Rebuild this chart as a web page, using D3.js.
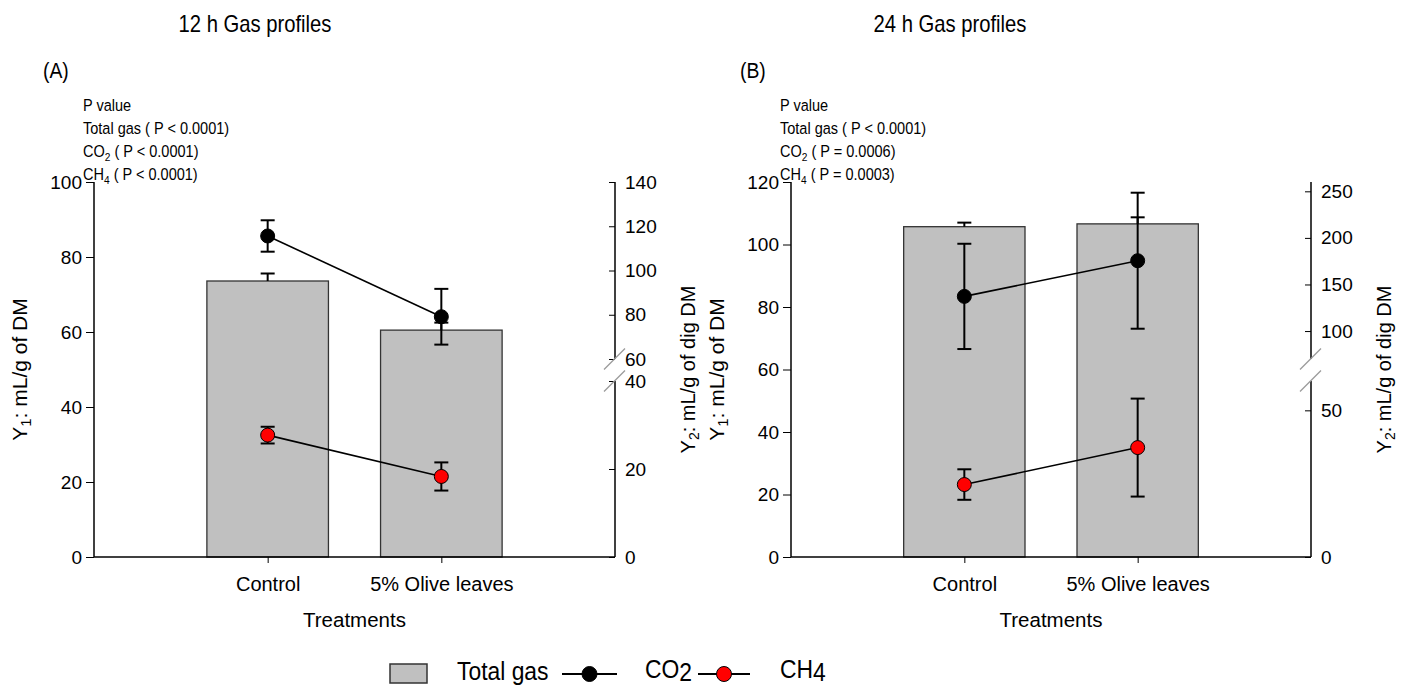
<!doctype html>
<html>
<head>
<meta charset="utf-8">
<script src="https://d3js.org/d3.v7.min.js"></script>
<style>
  body { margin: 0; background: #fff; }
  svg text { font-family: "Liberation Sans", Arial, sans-serif; fill: #000; }
</style>
</head>
<body>
<svg width="1409" height="688"></svg>
<script>
var treatments = ["Control", "5% Olive leaves"];

// 12 h gas profiles
var total12 = [73.6, 60.5], total12Err = [2.0, 2.0];
var co2_12 = [115.6, 79.1], co2_12Err = [7.1, 12.6];
var ch4_12 = [27.7, 18.3], ch4_12Err = [1.9, 3.2];

// 24 h gas profiles
var total24 = [105.7, 106.6], total24Err = [1.3, 2.1];
var co2_24 = [137.2, 175.5], co2_24Err = [56.5, 73.0];
var ch4_24 = [24.7, 37.3], ch4_24Err = [5.2, 16.7];

var y1Ticks12 = [0, 20, 40, 60, 80, 100], y1Ticks24 = [0, 20, 40, 60, 80, 100, 120];
var y2Ticks12 = [0, 20, 40, 60, 80, 100, 120, 140], y2Ticks24 = [0, 50, 100, 150, 200, 250];
// broken right axis: top of lower part, bottom of upper part, top
var y2Break12 = [40, 60, 140], y2Break24 = [60, 70, 260];
var pTotal12 = "P < 0.0001", pCO2_12 = "P < 0.0001", pCH4_12 = "P < 0.0001";
var pTotal24 = "P < 0.0001", pCO2_24 = "P = 0.0006", pCH4_24 = "P = 0.0003";

var svg = d3.select("svg");
var top_ = 182, bot = 557, lowTop = 381, highBot = 359;
var sx = 0.88;

function ctext(g, x, y, size, str, anchor) {
    return g.append("text")
        .attr("transform", "translate(" + x + "," + y + ") scale(" + sx + ",1)")
        .attr("font-size", size + "px")
        .attr("text-anchor", anchor || "start")
        .text(str);
}

function subText(g, x, y, size, a, sub, b) {
    var t = g.append("text")
        .attr("transform", "translate(" + x + "," + y + ") scale(" + sx + ",1)")
        .attr("font-size", size + "px");
    t.append("tspan").text(a);
    t.append("tspan").attr("font-size", (size * 0.7) + "px").attr("dy", 4).text(sub);
    t.append("tspan").attr("dy", -4).text(b);
    return t;
}

function panel(p) {
    var g = svg.append("g");
    var x = d3.scalePoint().domain(treatments).range([p.x0, p.x1]).padding(1);
    var bw = x.step() * 0.7;
    var y1 = d3.scaleLinear().domain([0, p.y1Max]).range([bot, top_]);
    var b = p.y2Break;
    var y2 = d3.scaleLinear().domain([0, b[0], b[1], b[2]]).range([bot, lowTop, highBot, top_]);

    // titles
    ctext(g, p.titleX, 32, 23, p.title, "middle");
    ctext(g, p.x0 - 51, 78, 22, p.letter);
    ctext(g, p.x0 - 11, 111, 16.5, "P value");
    ctext(g, p.x0 - 11, 134, 16.5, "Total gas ( " + p.pTotal + ")");
    subText(g, p.x0 - 11, 157, 16.5, "CO", "2", " ( " + p.pCO2 + ")");
    subText(g, p.x0 - 11, 180, 16.5, "CH", "4", " ( " + p.pCH4 + ")");

    // bars
    g.selectAll(".bar").data(treatments).enter().append("rect")
        .attr("x", function(d) { return x(d) - bw / 2; })
        .attr("y", function(d, i) { return y1(p.total[i]); })
        .attr("width", bw)
        .attr("height", function(d, i) { return bot - y1(p.total[i]); })
        .attr("fill", "#c0c0c0").attr("stroke", "#333").attr("stroke-width", 1.3);

    // total gas error (upper only)
    treatments.forEach(function(d, i) {
        var cx = x(d), yt = y1(p.total[i] + p.totalErr[i]);
        g.append("line").attr("x1", cx).attr("x2", cx).attr("y1", y1(p.total[i])).attr("y2", yt)
            .attr("stroke", "#000").attr("stroke-width", 2);
        g.append("line").attr("x1", cx - 7).attr("x2", cx + 7).attr("y1", yt).attr("y2", yt)
            .attr("stroke", "#000").attr("stroke-width", 2);
    });

    // lines + points
    [[p.co2, p.co2Err, "#000"], [p.ch4, p.ch4Err, "#ff0000"]].forEach(function(s) {
        var vals = s[0], errs = s[1];
        g.append("path")
            .attr("d", d3.line().x(function(d, i) { return x(treatments[i]); })
                .y(function(d) { return y2(d); })(vals))
            .attr("fill", "none").attr("stroke", "#000").attr("stroke-width", 1.6);
        vals.forEach(function(v, i) {
            var cx = x(treatments[i]);
            var ya = y2(v + errs[i]), yb = y2(v - errs[i]);
            g.append("line").attr("x1", cx).attr("x2", cx).attr("y1", ya).attr("y2", yb)
                .attr("stroke", "#000").attr("stroke-width", 2);
            [ya, yb].forEach(function(yy) {
                g.append("line").attr("x1", cx - 7).attr("x2", cx + 7).attr("y1", yy).attr("y2", yy)
                    .attr("stroke", "#000").attr("stroke-width", 2);
            });
        });
        g.selectAll(null).data(vals).enter().append("circle")
            .attr("cx", function(d, i) { return x(treatments[i]); })
            .attr("cy", function(d) { return y2(d); })
            .attr("r", 7)
            .attr("fill", s[2]).attr("stroke", "#000").attr("stroke-width", 1);
    });

    // x axis
    var xa = g.append("g").attr("transform", "translate(0," + bot + ")")
        .call(d3.axisBottom(x).tickSize(6).tickPadding(14));
    xa.select(".domain").remove();
    xa.selectAll("text").attr("font-size", "20px").attr("font-family", null);
    g.append("line").attr("x1", p.x0).attr("x2", p.x1).attr("y1", bot).attr("y2", bot)
        .attr("stroke", "#000").attr("stroke-width", 1.5);

    // left axis
    var ya1 = g.append("g").attr("transform", "translate(" + p.x0 + ",0)")
        .call(d3.axisLeft(y1).tickValues(p.y1Ticks).tickSize(8).tickPadding(4));
    ya1.select(".domain").remove();
    ya1.selectAll("text").attr("font-size", "19px").attr("font-family", null);
    g.append("line").attr("x1", p.x0).attr("x2", p.x0).attr("y1", top_).attr("y2", bot)
        .attr("stroke", "#000").attr("stroke-width", 1.5);

    // right broken axis
    var ya2 = g.append("g").attr("transform", "translate(" + p.x1 + ",0)")
        .call(d3.axisRight(y2).tickValues(p.y2Ticks).tickSize(-6).tickPadding(10));
    ya2.select(".domain").remove();
    ya2.selectAll("text").attr("font-size", "19px").attr("font-family", null);
    g.append("line").attr("x1", p.x1).attr("x2", p.x1).attr("y1", bot).attr("y2", lowTop)
        .attr("stroke", "#000").attr("stroke-width", 1.5);
    g.append("line").attr("x1", p.x1).attr("x2", p.x1).attr("y1", highBot).attr("y2", top_)
        .attr("stroke", "#000").attr("stroke-width", 1.5);
    [highBot, lowTop].forEach(function(yb) {
        g.append("line").attr("x1", p.x1 - 11).attr("x2", p.x1 + 10)
            .attr("y1", yb + 10.5).attr("y2", yb - 10.5)
            .attr("stroke", "#999").attr("stroke-width", 1.3);
    });

    // axis titles
    var mid = (top_ + bot) / 2;
    var t1 = g.append("text").attr("transform", "translate(" + (p.x0 - 74) + "," + mid + ") rotate(-90)")
        .attr("text-anchor", "middle").attr("font-size", "21px").attr("dy", "0.35em");
    t1.append("tspan").text("Y");
    t1.append("tspan").attr("font-size", "15px").attr("dy", 4).text("1");
    t1.append("tspan").attr("dy", -4).text(": mL/g of DM");
    var t2 = g.append("text").attr("transform", "translate(" + (p.x1 + 73) + "," + mid + ") rotate(-90)")
        .attr("text-anchor", "middle").attr("font-size", "20px").attr("dy", "0.35em");
    t2.append("tspan").text("Y");
    t2.append("tspan").attr("font-size", "14px").attr("dy", 4).text("2");
    t2.append("tspan").attr("dy", -4).text(": mL/g of dig DM");
    g.append("text").attr("x", (p.x0 + p.x1) / 2).attr("y", 627)
        .attr("text-anchor", "middle").attr("font-size", "20.5px").text("Treatments");
}

panel({x0: 94, x1: 615, title: "12 h Gas profiles", titleX: 255, letter: "(A)",
    y1Max: 100, y1Ticks: y1Ticks12, y2Break: y2Break12, y2Ticks: y2Ticks12,
    total: total12, totalErr: total12Err, co2: co2_12, co2Err: co2_12Err, ch4: ch4_12, ch4Err: ch4_12Err,
    pTotal: pTotal12, pCO2: pCO2_12, pCH4: pCH4_12});
panel({x0: 791, x1: 1311, title: "24 h Gas profiles", titleX: 950, letter: "(B)",
    y1Max: 120, y1Ticks: y1Ticks24, y2Break: y2Break24, y2Ticks: y2Ticks24,
    total: total24, totalErr: total24Err, co2: co2_24, co2Err: co2_24Err, ch4: ch4_24, ch4Err: ch4_24Err,
    pTotal: pTotal24, pCO2: pCO2_24, pCH4: pCH4_24});

// legend
var lg = svg.append("g");
lg.append("rect").attr("x", 390).attr("y", 664).attr("width", 37).attr("height", 19)
    .attr("fill", "#c0c0c0").attr("stroke", "#333").attr("stroke-width", 1.5);
ctext(lg, 457, 680, 26, "Total gas");
[[562, 617, "#000", 645, "CO", "2"], [698, 750, "#ff0000", 780, "CH", "4"]].forEach(function(l) {
    lg.append("line").attr("x1", l[0]).attr("x2", l[1]).attr("y1", 674).attr("y2", 674)
        .attr("stroke", "#000").attr("stroke-width", 1.8);
    lg.append("circle").attr("cx", (l[0] + l[1]) / 2).attr("cy", 674).attr("r", 7.5)
        .attr("fill", l[2]).attr("stroke", "#000").attr("stroke-width", 1);
    var t = lg.append("text").attr("transform", "translate(" + l[3] + ",678) scale(" + sx + ",1)")
        .attr("font-size", "26px");
    t.append("tspan").text(l[4]);
    t.append("tspan").attr("dy", 3).text(l[5]);
});
</script>
</body>
</html>
